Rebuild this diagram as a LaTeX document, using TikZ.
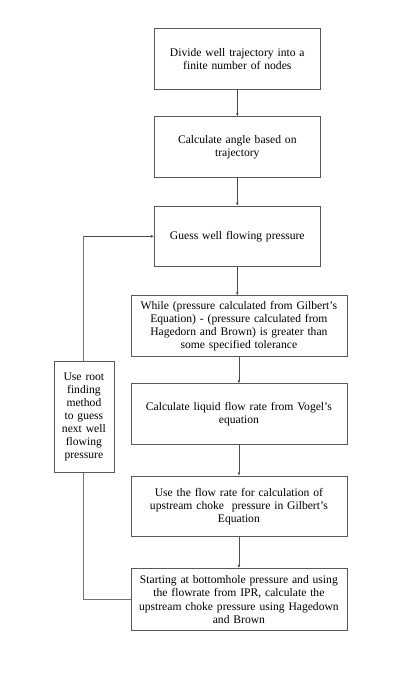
\documentclass[tikz,border=0pt]{standalone}
\usepackage{fontspec}
\setmainfont{Liberation Serif}
\usetikzlibrary{arrows.meta}
\begin{document}
\begin{tikzpicture}[x=1pt,y=-1pt,
  box/.style={draw=black!65, line width=0.8pt, align=center, inner sep=2pt,
    font=\fontsize{11.6}{13.1}\selectfont, text=black},
  conn/.style={draw=black!70, line width=0.8pt, -{Latex[length=3pt,width=3pt]}},
  plain/.style={draw=black!55, line width=0.9pt}]
\useasboundingbox[fill=white] (0,0) rectangle (403,693);
\node[box, minimum width=166pt, minimum height=60.7pt, text width=160pt] (b1) at (237.3,58.7)
  {Divide well trajectory into a\\finite number of nodes};
\node[box, minimum width=166pt, minimum height=60.3pt, text width=160pt] (b2) at (237.3,146.8)
  {Calculate angle based on\\trajectory};
\node[box, minimum width=166pt, minimum height=60.7pt, text width=160pt] (b3) at (237.3,236.3)
  {Guess well flowing pressure};
\node[box, minimum width=216pt, minimum height=60.6pt, text width=212pt] (b4) at (238.9,326)
  {While (pressure calculated from Gilbert's\\Equation) - (pressure calculated from\\Hagedorn and Brown) is greater than\\some specified tolerance};
\node[box, minimum width=216pt, minimum height=60.3pt, text width=212pt] (b5) at (238.9,413.8)
  {Calculate liquid flow rate from Vogel's\\equation};
\node[box, minimum width=216pt, minimum height=60.7pt, text width=212pt] (b6) at (238.9,506.3)
  {Use the flow rate for calculation of\\upstream choke\ \ pressure in Gilbert's\\Equation};
\node[box, minimum width=216pt, minimum height=62.4pt, text width=212pt] (b7) at (238.9,599.5)
  {Starting at bottomhole pressure and using\\the flowrate from IPR, calculate the\\upstream choke pressure using Hagedown\\and Brown};
\node[box, minimum width=59.7pt, minimum height=111pt, text width=56pt] (lb) at (83.9,416.8)
  {Use root\\finding\\method\\to guess\\next well\\flowing\\pressure};
\coordinate (top) at (83.9,236.3);
\draw[conn] (b1.south) -- (b2.north);
\draw[conn] (b2.south) -- (b3.north);
\draw[conn] (b3.south) -- (b3.south |- b4.north);
\draw[conn] (b4.south) -- (b5.north);
\draw[conn] (b5.south) -- (b6.north);
\draw[conn] (b6.south) -- (b7.north);
\draw[plain] (b7.west) -| (lb.south);
\draw[plain] (lb.north) -- (top);
\draw[conn] (top) -- (b3.west);
\end{tikzpicture}
\end{document}
